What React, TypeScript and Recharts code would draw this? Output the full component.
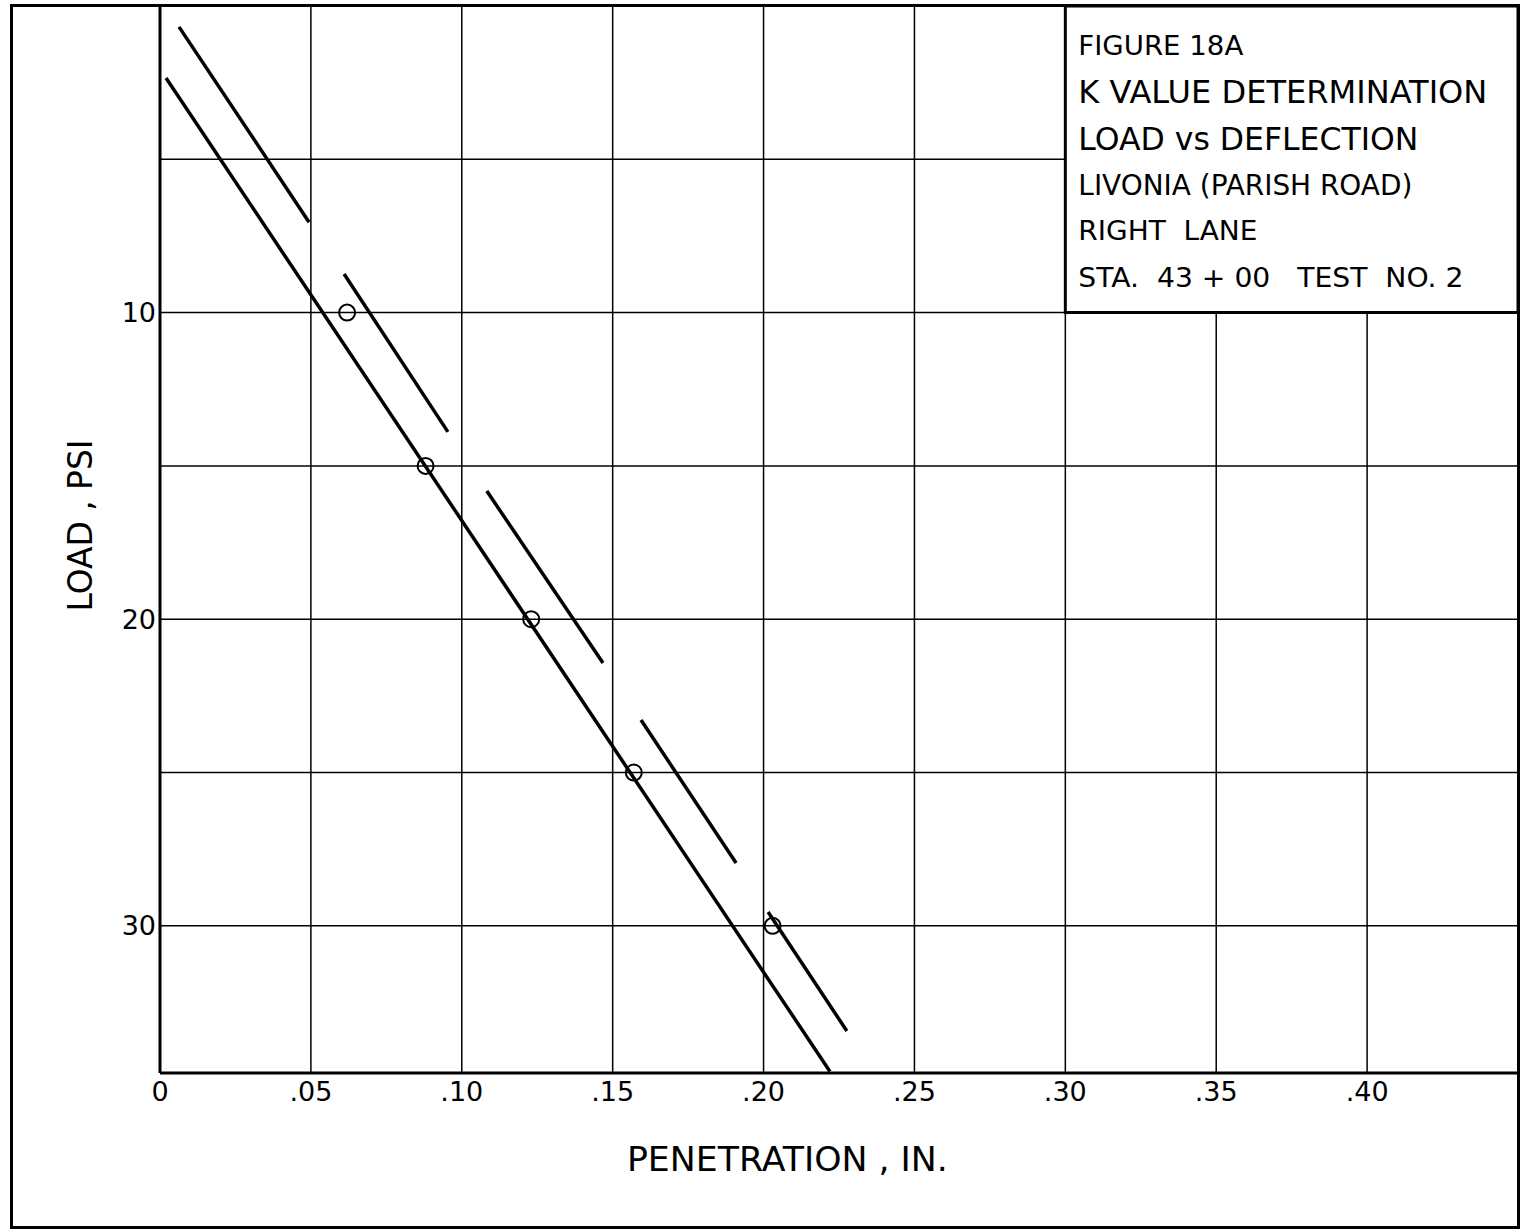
import { ScatterChart, Scatter, XAxis, YAxis, CartesianGrid, ReferenceArea } from 'recharts';

// axis ticks
const xTicks = [0, 0.05, 0.1, 0.15, 0.2, 0.25, 0.3, 0.35, 0.4];
const yTicks = [0, 5, 10, 15, 20, 25, 30];
const yLabelled = [10, 20, 30];

// measured points (penetration in., load psi)
const penetration = [0.062, 0.088, 0.123, 0.157, 0.203];
const load = [10, 15, 20, 25, 30];

// drawn fit line
const fitX = [0.002, 0.222];
const fitY = [2.35, 34.75];

// short parallel strokes to the right of the fit line
const segmentX = [
    [0.0063, 0.0494],
    [0.061, 0.0954],
    [0.1083, 0.1468],
    [0.1594, 0.1909],
    [0.2015, 0.2276],
];
const segmentY = [
    [0.68, 7.05],
    [8.74, 13.89],
    [15.82, 21.43],
    [23.29, 27.95],
    [29.55, 33.43],
];

const titleLines = [
    'FIGURE 18A',
    'K VALUE DETERMINATION',
    'LOAD vs DEFLECTION',
    'LIVONIA (PARISH ROAD)',
    'RIGHT  LANE',
    'STA.  43 + 00   TEST  NO. 2',
];

const FONT = "'DejaVu Sans', Verdana, sans-serif";

const toPoints = (xs: number[], ys: number[]) => xs.map((x, i) => ({ x, y: ys[i] }));

const points = toPoints(penetration, load);
const fitLine = toPoints(fitX, fitY);
const segments = segmentX.map((xs, i) => toPoints(xs, segmentY[i]));

const fmtX = (v: number) => (v === 0 ? '0' : v.toFixed(2).replace(/^0/, ''));
const fmtY = (v: number) => (yLabelled.includes(v) ? String(v) : '');

const NoDot = () => <g />;

function Ring(props: any) {
    const { cx, cy } = props;
    if (cx == null || cy == null) return <g />;
    return <circle cx={cx} cy={cy} r={8} fill="none" stroke="#000" strokeWidth={2} />;
}

function TitleBlock(props: any) {
    const { x, y } = props.viewBox;
    // baseline offset, font size, stretched width for each line
    const baselines = [49, 97, 144, 189, 234, 281];
    const sizes = [27, 32, 32, 29, 27, 27];
    const widths = [165, 409, 340, 334, 179, 385];
    return (
        <g fontFamily={FONT} fill="#000">
            {titleLines.map((t, i) => (
                <text
                    key={t}
                    x={x + 13}
                    y={y + baselines[i]}
                    fontSize={sizes[i]}
                    textLength={widths[i]}
                    lengthAdjust="spacingAndGlyphs"
                    style={{ whiteSpace: 'pre' }}
                >
                    {t}
                </text>
            ))}
        </g>
    );
}

function YTitle(props: any) {
    const vb = props.viewBox;
    const cx = vb.x + vb.width - 80;
    const cy = vb.y + vb.height / 2 - 14;
    return (
        <text
            x={cx}
            y={cy}
            transform={`rotate(-90, ${cx}, ${cy})`}
            textAnchor="middle"
            dominantBaseline="central"
            fontFamily={FONT}
            fontSize={33}
            textLength={172}
            lengthAdjust="spacingAndGlyphs"
            fill="#000"
        >
            LOAD , PSI
        </text>
    );
}

function XTitle(props: any) {
    const vb = props.viewBox;
    return (
        <text
            x={vb.x + vb.width * 0.462}
            y={vb.y + 98}
            textAnchor="middle"
            fontFamily={FONT}
            fontSize={33}
            textLength={321}
            lengthAdjust="spacingAndGlyphs"
            fill="#000"
        >
            PENETRATION , IN.
        </text>
    );
}

export default function App() {
    return (
        <div style={{ position: 'absolute', left: 0, top: 0, width: 1530, height: 1230, background: '#fff' }}>
            <ScatterChart width={1530} height={1230} margin={{ top: 6, right: 12, bottom: 97, left: 100 }}>
                <CartesianGrid stroke="#000" strokeWidth={1.5} />
                <XAxis
                    type="number"
                    dataKey="x"
                    domain={[0, 0.45]}
                    ticks={xTicks}
                    tickFormatter={fmtX}
                    height={60}
                    tickSize={0}
                    tickMargin={9}
                    tickLine={false}
                    axisLine={{ stroke: '#000', strokeWidth: 3 }}
                    tick={{ fill: '#000', fontSize: 27, fontFamily: FONT }}
                    allowDataOverflow
                    label={{ content: XTitle }}
                />
                <YAxis
                    type="number"
                    dataKey="y"
                    domain={[0, 34.8]}
                    reversed
                    ticks={yTicks}
                    tickFormatter={fmtY}
                    width={60}
                    tickSize={0}
                    tickMargin={4}
                    tickLine={false}
                    axisLine={{ stroke: '#000', strokeWidth: 3 }}
                    tick={{ fill: '#000', fontSize: 27, fontFamily: FONT }}
                    allowDataOverflow
                    label={{ content: YTitle }}
                />
                <ReferenceArea
                    x1={0.3}
                    x2={0.45}
                    y1={0}
                    y2={10}
                    fill="#fff"
                    fillOpacity={1}
                    stroke="#000"
                    strokeWidth={3}
                    label={{ content: TitleBlock }}
                />
                <Scatter
                    data={fitLine}
                    line={{ stroke: '#000', strokeWidth: 3.5 }}
                    shape={NoDot}
                    isAnimationActive={false}
                />
                {segments.map((seg, i) => (
                    <Scatter
                        key={i}
                        data={seg}
                        line={{ stroke: '#000', strokeWidth: 3.5 }}
                        shape={NoDot}
                        isAnimationActive={false}
                    />
                ))}
                <Scatter data={points} shape={Ring} isAnimationActive={false} />
            </ScatterChart>
            <div
                style={{
                    position: 'absolute',
                    left: 10,
                    top: 4,
                    width: 1510,
                    height: 1225,
                    boxSizing: 'border-box',
                    border: '3px solid #000',
                    pointerEvents: 'none',
                }}
            />
        </div>
    );
}
